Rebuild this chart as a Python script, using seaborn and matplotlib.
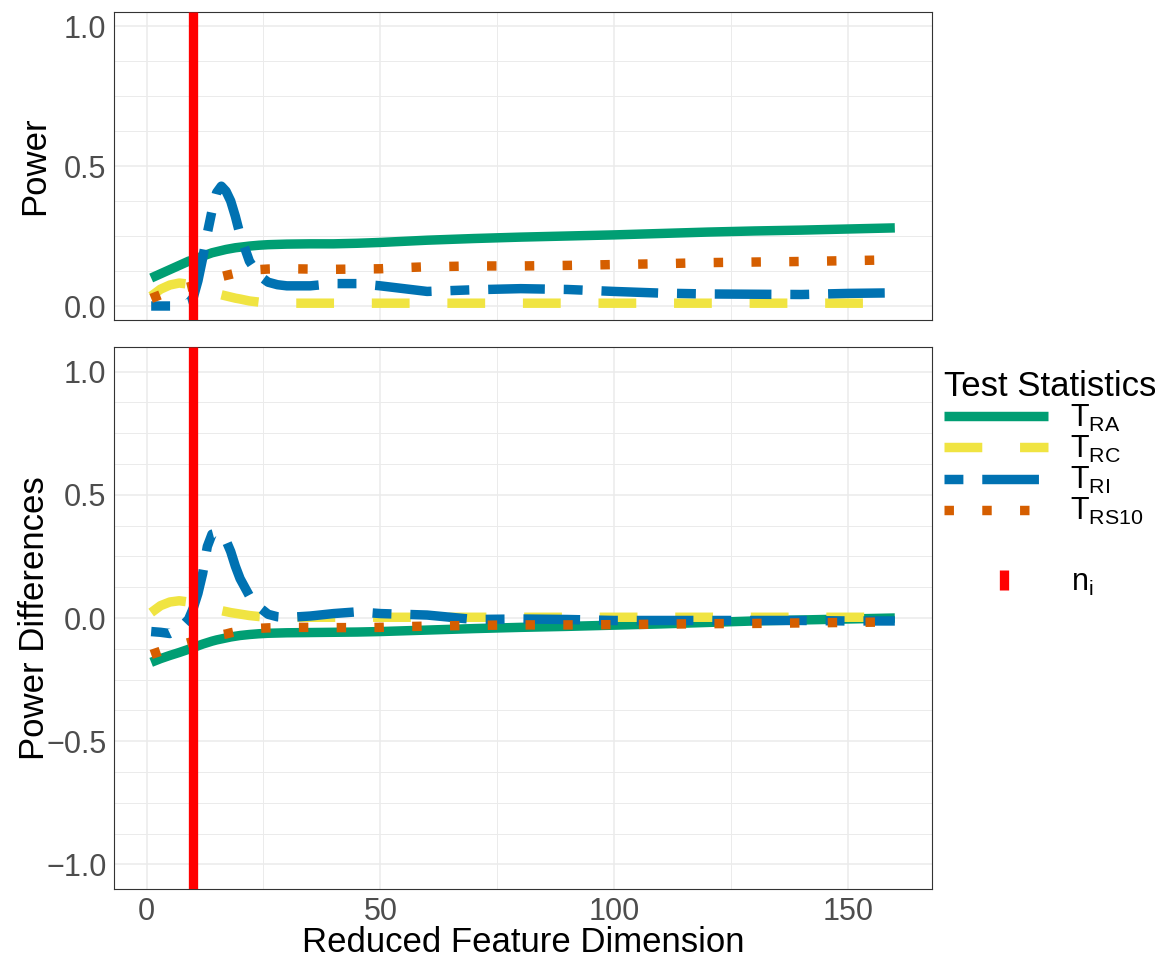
import numpy as np
import pandas as pd
import matplotlib
matplotlib.use("Agg")
import matplotlib.pyplot as plt
from matplotlib.lines import Line2D
from matplotlib.ticker import MultipleLocator, FixedLocator, FuncFormatter
import seaborn as sns

# ---------------- data ----------------
dims = [1, 3, 5, 7, 9, 10, 11, 12, 13, 14, 15, 16, 17, 18, 19, 20, 22, 24, 26, 28,
        30, 35, 40, 45, 50, 55, 60, 70, 80, 90, 100, 110, 120, 130, 140, 150, 160]

power_ra = [0.100, 0.115, 0.130, 0.145, 0.160, 0.165, 0.172, 0.178, 0.184, 0.190,
            0.194, 0.198, 0.202, 0.205, 0.208, 0.210, 0.214, 0.217, 0.219, 0.220,
            0.221, 0.222, 0.222, 0.224, 0.227, 0.231, 0.235, 0.241, 0.246, 0.250,
            0.254, 0.259, 0.264, 0.268, 0.271, 0.275, 0.279]
power_rc = [0.035, 0.060, 0.075, 0.082, 0.078, 0.070, 0.064, 0.058, 0.053, 0.048,
            0.044, 0.040, 0.036, 0.032, 0.028, 0.025, 0.018, 0.014, 0.012, 0.011,
            0.010, 0.010, 0.010, 0.010, 0.010, 0.010, 0.010, 0.010, 0.010, 0.010,
            0.010, 0.010, 0.010, 0.010, 0.010, 0.010, 0.010]
power_ri = [0.000, 0.000, 0.000, 0.000, 0.010, 0.030, 0.090, 0.170, 0.260, 0.340,
            0.405, 0.428, 0.410, 0.375, 0.320, 0.255, 0.160, 0.110, 0.085, 0.076,
            0.072, 0.072, 0.080, 0.080, 0.072, 0.062, 0.052, 0.058, 0.062, 0.059,
            0.052, 0.046, 0.043, 0.042, 0.041, 0.045, 0.047]
power_rs = [0.027, 0.040, 0.050, 0.060, 0.068, 0.073, 0.078, 0.084, 0.090, 0.095,
            0.100, 0.105, 0.109, 0.113, 0.117, 0.120, 0.125, 0.130, 0.132, 0.133,
            0.133, 0.132, 0.131, 0.132, 0.133, 0.137, 0.140, 0.143, 0.143, 0.145,
            0.148, 0.151, 0.155, 0.157, 0.159, 0.162, 0.165]

diff_ra = [-0.180, -0.165, -0.152, -0.140, -0.127, -0.120, -0.113, -0.106, -0.100, -0.094,
           -0.089, -0.085, -0.081, -0.077, -0.074, -0.071, -0.067, -0.064, -0.062, -0.061,
           -0.060, -0.059, -0.058, -0.057, -0.055, -0.052, -0.049, -0.043, -0.038, -0.034,
           -0.029, -0.024, -0.018, -0.012, -0.008, -0.004, 0.000]
diff_rc = [0.022, 0.050, 0.065, 0.070, 0.065, 0.060, 0.053, 0.047, 0.042, 0.037,
           0.033, 0.030, 0.026, 0.022, 0.019, 0.016, 0.010, 0.006, 0.004, 0.003,
           0.003, 0.003, 0.003, 0.003, 0.003, 0.003, 0.003, 0.003, 0.003, 0.003,
           0.003, 0.003, 0.003, 0.003, 0.003, 0.003, 0.003]
diff_ri = [-0.055, -0.058, -0.063, -0.045, -0.005, 0.040, 0.100, 0.180, 0.290, 0.340,
           0.345, 0.335, 0.315, 0.270, 0.210, 0.160, 0.090, 0.045, 0.015, 0.005,
           0.002, 0.008, 0.018, 0.025, 0.018, 0.015, 0.012, -0.006, -0.004, -0.006,
           -0.010, -0.010, -0.010, -0.010, -0.010, -0.012, -0.012]
diff_rs = [-0.148, -0.135, -0.122, -0.110, -0.100, -0.095, -0.090, -0.085, -0.080, -0.075,
           -0.071, -0.068, -0.065, -0.060, -0.056, -0.052, -0.046, -0.042, -0.040, -0.039,
           -0.038, -0.038, -0.039, -0.039, -0.038, -0.035, -0.033, -0.030, -0.028, -0.028,
           -0.027, -0.025, -0.023, -0.022, -0.020, -0.018, -0.016]

stats = ["T_RA", "T_RC", "T_RI", "T_RS10"]
stat_labels = [r"$\mathregular{T_{RA}}$", r"$\mathregular{T_{RC}}$",
               r"$\mathregular{T_{RI}}$", r"$\mathregular{T_{RS10}}$"]
n_i = 10

colors = {"T_RA": "#009E73", "T_RC": "#F0E442", "T_RI": "#0072B2", "T_RS10": "#D55E00"}
dash_map = {"T_RA": "", "T_RC": (4, 4), "T_RI": (2, 2, 6, 2), "T_RS10": (1, 3)}

# ---------------- style ----------------
sns.set_style("white")
plt.rcParams["font.family"] = ["Liberation Sans", "DejaVu Sans"]
plt.rcParams["mathtext.fontset"] = "custom"
plt.rcParams["mathtext.rm"] = "Liberation Sans"
plt.rcParams["mathtext.it"] = "Liberation Sans:italic"
plt.rcParams["lines.dash_capstyle"] = "butt"
plt.rcParams["lines.solid_capstyle"] = "butt"
plt.rcParams["text.color"] = "black"
plt.rcParams["axes.labelcolor"] = "black"

LW = 6.8
TICK_FS = 22
TITLE_FS = 25
LEG_FS = 22

df_power = pd.DataFrame({
    "dim": dims * 4,
    "value": power_ra + power_rc + power_ri + power_rs,
    "stat": sum([[s] * len(dims) for s in stats], []),
})
df_diff = pd.DataFrame({
    "dim": dims * 4,
    "value": diff_ra + diff_rc + diff_ri + diff_rs,
    "stat": sum([[s] * len(dims) for s in stats], []),
})

fmt = FuncFormatter(lambda v, p: ("%.1f" % v).replace("-", "\u2212"))

fig = plt.figure(figsize=(11.55, 9.59), dpi=100)
W, H = 1155, 959
ax1 = fig.add_axes([114 / W, 1 - 320 / H, 818 / W, 308 / H])
ax2 = fig.add_axes([114 / W, 1 - 889 / H, 818 / W, 542 / H])

for ax, df in [(ax1, df_power), (ax2, df_diff)]:
    sns.lineplot(data=df, x="dim", y="value", hue="stat", style="stat",
                 hue_order=stats, style_order=stats, palette=colors, dashes=dash_map,
                 linewidth=LW, estimator=None, sort=False, legend=False, ax=ax)
    ax.axvline(n_i, color="#FF0000", lw=6.7, zorder=5)
    ax.set_xlim(-6.95, 167.95)
    ax.xaxis.set_major_locator(FixedLocator([0, 50, 100, 150]))
    ax.xaxis.set_minor_locator(FixedLocator([25, 75, 125]))
    ax.yaxis.set_minor_locator(MultipleLocator(0.125))
    ax.yaxis.set_major_formatter(fmt)
    ax.grid(True, which="major", color="#EBEBEB", lw=1.1)
    ax.grid(True, which="minor", color="#EBEBEB", lw=0.7)
    ax.set_axisbelow(True)
    ax.tick_params(axis="both", which="major", length=2.9, width=0.8, color="#333333",
                   labelsize=TICK_FS, labelcolor="#4D4D4D", pad=2.5)
    ax.tick_params(axis="both", which="minor", length=0)
    for sp in ax.spines.values():
        sp.set_color("#333333")
        sp.set_linewidth(0.8)
    ax.set_xlabel("")

ax1.set_ylim(-0.05, 1.05)
ax1.yaxis.set_major_locator(FixedLocator([0, 0.5, 1.0]))
ax1.tick_params(axis="x", which="major", length=0, labelbottom=False)
ax1.set_ylabel("Power", fontsize=TITLE_FS, color="black")
ax1.yaxis.set_label_coords(-0.077, 0.5)

ax2.set_ylim(-1.1, 1.1)
ax2.yaxis.set_major_locator(FixedLocator([-1.0, -0.5, 0, 0.5, 1.0]))
ax2.set_ylabel("Power Differences", fontsize=TITLE_FS, color="black")
ax2.yaxis.set_label_coords(-0.077, 0.5)
ax2.set_xlabel("Reduced Feature Dimension", fontsize=TITLE_FS, color="black")
ax2.xaxis.set_label_coords(0.5, -0.068)

# ---------------- legends ----------------
handles = []
for s in stats:
    if dash_map[s]:
        handles.append(Line2D([], [], color=colors[s], lw=LW, dashes=dash_map[s],
                              dash_capstyle="butt"))
    else:
        handles.append(Line2D([], [], color=colors[s], lw=LW, solid_capstyle="butt"))

fs_px = LEG_FS * 100 / 72.0
leg1 = fig.legend(handles, stat_labels, title="Test Statistics", loc="upper left",
                  bbox_to_anchor=(944 / W, 1 - 370 / H), frameon=False,
                  fontsize=LEG_FS, title_fontsize=TITLE_FS, handlelength=104 / fs_px,
                  handletextpad=22 / fs_px, labelspacing=0.0, borderpad=0,
                  borderaxespad=0, alignment="left", labelcolor="black")
leg1.get_title().set_color("black")
red_handle = Line2D([], [], color="#FF0000", marker="|", linestyle="None",
                    markersize=14.5, markeredgewidth=6.7)
leg2 = fig.legend([red_handle], [r"$\mathregular{n_i}$"], loc="upper left",
                  bbox_to_anchor=(953 / W, 1 - 568 / H), frameon=False,
                  fontsize=LEG_FS, handlelength=101 / fs_px, handletextpad=17 / fs_px,
                  borderpad=0, borderaxespad=0, labelcolor="black")

fig.savefig("out.png", dpi=100)
